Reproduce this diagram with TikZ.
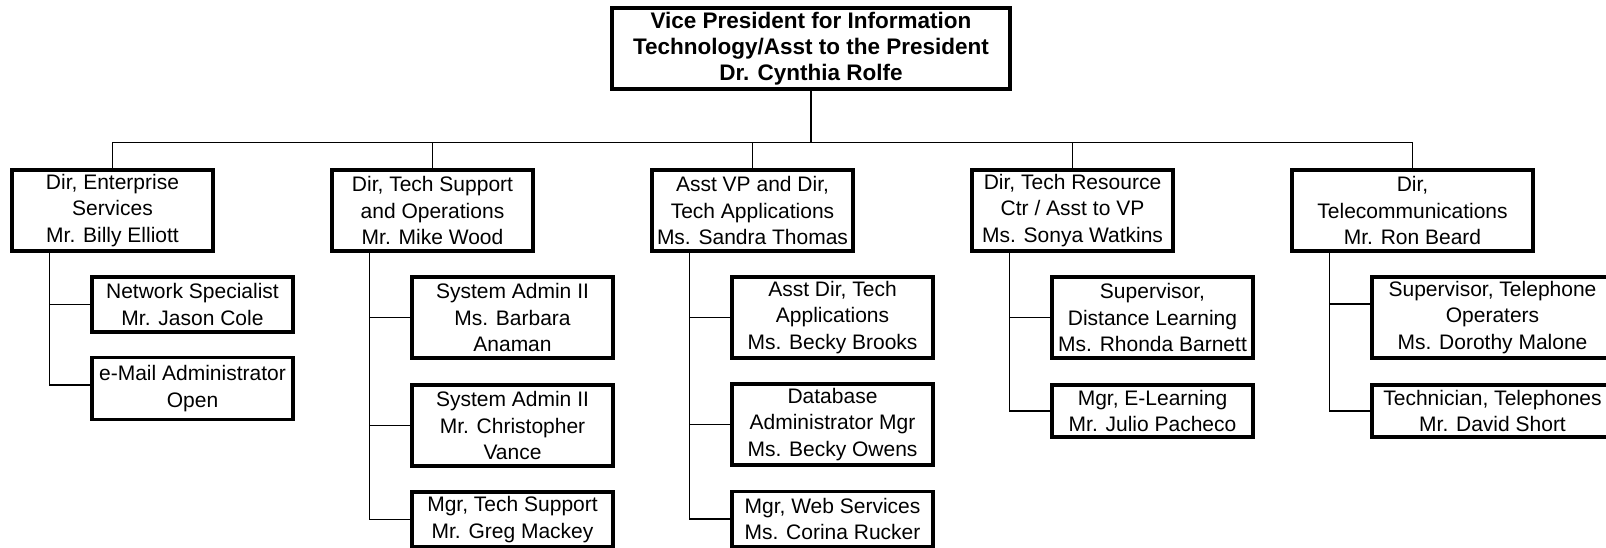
\documentclass[tikz,border=0pt]{standalone}
\usepackage{fontspec}
\setmainfont{Liberation Sans}
\usetikzlibrary{positioning}

\begin{document}
\begin{tikzpicture}
	[x=1pt,y=-1pt,node distance=320pt,on grid,
	box/.style={draw,line width=3.2pt,align=center,inner sep=0pt,minimum width=201pt,font=\fontsize{21}{26.5}\selectfont},
	head/.style={box,minimum width=398pt,minimum height=81pt,font=\bfseries\fontsize{22.5}{26}\selectfont},
	dir/.style={box,minimum height=81pt},
	wide/.style={minimum width=241pt},
	link/.style={line width=1.7pt}]

	\useasboundingbox (0,0) rectangle (1606,548);

	\node [head] (vp) at (811,48.5) {Vice President for Information\\Technology/Asst to the President\\Dr. Cynthia Rolfe};
		\coordinate [below=52pt of vp.south] (bus);

	% directors
	\node [dir] (d3) [below=162pt of vp, xshift=-58.5pt] {Asst VP and Dir,\\Tech Applications\\Ms. Sandra Thomas};
	\node [dir] (d2) [left=of d3]        {Dir, Tech Support\\and Operations\\Mr. Mike Wood};
	\node [dir] (d1) [left=of d2]        {Dir, Enterprise\\Services\\Mr. Billy Elliott};
	\node [dir] (d4) [right=of d3]       {Dir, Tech Resource\\Ctr / Asst to VP\\Ms. Sonya Watkins};
	\node [dir,wide] (d5) [right=340pt of d4] {Dir,\\Telecommunications\\Mr. Ron Beard};

	% staff
	\node [box,minimum height=55pt] (s11) [below right=94pt and 80pt of d1] {Network Specialist\\Mr. Jason Cole};
	\node [box,minimum height=62pt] (s12) [below=84pt of s11]              {e-Mail Administrator\\Open};

	\node [box,minimum height=81pt] (s21) [below right=107pt and 80pt of d2] {System Admin II\\Ms. Barbara\\Anaman};
	\node [box,minimum height=81pt] (s22) [below=108pt of s21]             {System Admin II\\Mr. Christopher\\Vance};
	\node [box,minimum height=55pt] (s23) [below=94pt of s22]              {Mgr, Tech Support\\Mr. Greg Mackey};

	\node [box,minimum height=81pt] (s31) [below right=107pt and 80pt of d3] {Asst Dir, Tech\\Applications\\Ms. Becky Brooks};
	\node [box,minimum height=81pt] (s32) [below=107pt of s31]             {Database\\Administrator Mgr\\Ms. Becky Owens};
	\node [box,minimum height=55pt] (s33) [below=94.5pt of s32]            {Mgr, Web Services\\Ms. Corina Rucker};

	\node [box,minimum height=81pt] (s41) [below right=107pt and 80pt of d4] {Supervisor,\\Distance Learning\\Ms. Rhonda Barnett};
	\node [box,minimum height=52pt] (s42) [below=93.5pt of s41]            {Mgr, E-Learning\\Mr. Julio Pacheco};

	\node [box,wide,minimum height=81pt] (s51) [below right=107pt and 80pt of d5] {Supervisor, Telephone\\Operaters\\Ms. Dorothy Malone};
	\node [box,wide,minimum height=52pt] (s52) [below=93.5pt of s51]       {Technician, Telephones\\Mr. David Short};

	% bus
	\draw [link] (vp) -- (bus);
	\draw [link] (d1.north) |- (bus);
	\draw [link] (d5.north) |- (bus);
	\foreach \d in {d2,d3,d4}
		\draw [link] (\d.north) -- (\d.north |- bus);

	% stems
	\foreach \d in {d1,d2,d3,d4,d5}
		\coordinate (\d s) at ([xshift=39pt]\d.south west);
	\draw [link] (d1s) |- (s11.west) (d1s) |- ([yshift=3.5pt]s12.west);
	\draw [link] (d2s) |- (s21.west) (d2s) |- (s22.west) (d2s) |- (s23.west);
	\draw [link] (d3s) |- (s31.west) (d3s) |- (s32.west) (d3s) |- (s33.west);
	\draw [link] (d4s) |- (s41.west) (d4s) |- (s42.west);
	\draw [link] (d5s) |- ([yshift=13.5pt]s51.west) (d5s) |- (s52.west);
\end{tikzpicture}
\end{document}
